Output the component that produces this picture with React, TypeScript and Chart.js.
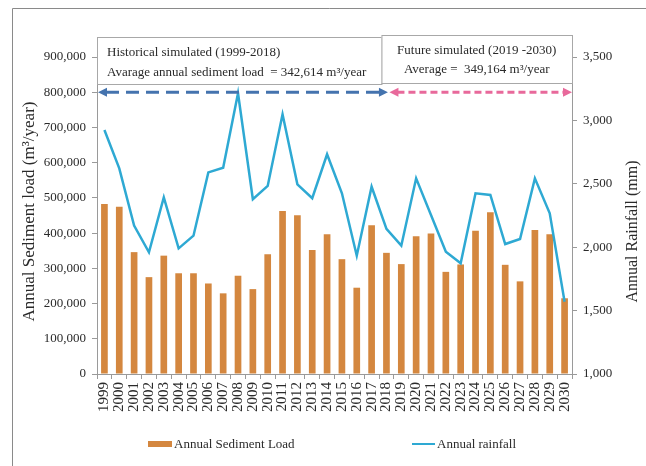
import React, { useEffect, useRef } from 'react';
import { Chart, registerables } from 'chart.js';

Chart.register(...registerables);

const years = ['1999','2000','2001','2002','2003','2004','2005','2006','2007','2008','2009','2010','2011','2012','2013','2014','2015','2016','2017','2018','2019','2020','2021','2022','2023','2024','2025','2026','2027','2028','2029','2030'];
const sedimentLoad = [483000, 475000, 346000, 275000, 336000, 286000, 286000, 257000, 229000, 279000, 241000, 340000, 463000, 451000, 352000, 397000, 326000, 245000, 422000, 344000, 312000, 391000, 399000, 290000, 311000, 407000, 459000, 310000, 263000, 409000, 397000, 215000];
const rainfall = [2924, 2622, 2170, 1960, 2393, 1991, 2091, 2590, 2627, 3214, 2378, 2483, 3048, 2496, 2386, 2733, 2425, 1933, 2477, 2144, 2012, 2543, 2254, 1965, 1873, 2425, 2412, 2025, 2065, 2543, 2267, 1570];
const leftTicks = { min: 0, max: 900000, step: 100000 };
const rightTicks = { min: 1000, max: 3500, step: 500 };
const histLines = ['Historical simulated (1999-2018)', 'Avarage annual sediment load  = 342,614 m\u00B3/year'];
const futLines = ['Future simulated (2019 -2030)', 'Average =  349,164 m\u00B3/year'];
const leftTitle = 'Annual Sediment load (m\u00B3/year)';
const rightTitle = 'Annual Rainfall (mm)';
const legendNames = ['Annual Sediment Load', 'Annual rainfall'];

const SERIF = "'Liberation Serif', 'Times New Roman', serif";
const BAR = '#D4873F';
const LINE = '#2EA9D3';
const AXIS = '#9a9a9a';
const TEXT = '#2a2a2a';

function arrowHead(ctx: CanvasRenderingContext2D, tipX: number, y: number, dir: number, color: string) {
  ctx.fillStyle = color;
  ctx.beginPath();
  ctx.moveTo(tipX, y);
  ctx.lineTo(tipX - dir * 9, y - 4.5);
  ctx.lineTo(tipX - dir * 9, y + 4.5);
  ctx.closePath();
  ctx.fill();
}

function dashedArrow(ctx: CanvasRenderingContext2D, x1: number, x2: number, y: number, color: string, dash: number[]) {
  ctx.save();
  ctx.strokeStyle = color;
  ctx.lineWidth = 3;
  ctx.setLineDash(dash);
  ctx.beginPath();
  ctx.moveTo(x1 + 8, y);
  ctx.lineTo(x2 - 8, y);
  ctx.stroke();
  ctx.restore();
  arrowHead(ctx, x1, y, -1, color);
  arrowHead(ctx, x2, y, 1, color);
}

const overlay = {
  id: 'overlay',
  afterDraw(chart: any) {
    const { ctx, chartArea, scales } = chart;
    const x = scales.x;
    const y = scales.y;
    const L = chartArea.left, R = chartArea.right, T = chartArea.top, B = chartArea.bottom;
    ctx.save();
    // outer frame
    ctx.strokeStyle = '#8a8a8a';
    ctx.lineWidth = 1;
    ctx.beginPath();
    ctx.moveTo(12.5, 466);
    ctx.lineTo(12.5, 8.5);
    ctx.lineTo(646, 8.5);
    ctx.stroke();

    // axis titles
    ctx.fillStyle = TEXT;
    ctx.textAlign = 'center';
    ctx.textBaseline = 'middle';
    ctx.font = `17px ${SERIF}`;
    ctx.save();
    ctx.translate(L - 67, (T + B) / 2 - 4);
    ctx.rotate(-Math.PI / 2);
    ctx.fillText(leftTitle, 0, 0);
    ctx.restore();
    ctx.font = `16px ${SERIF}`;
    ctx.save();
    ctx.translate(R + 61, (T + B) / 2 + 16);
    ctx.rotate(-Math.PI / 2);
    ctx.fillText(rightTitle, 0, 0);
    ctx.restore();

    // annotation boxes
    const split = x.getPixelForValue(19) - 5;
    ctx.fillStyle = '#ffffff';
    ctx.strokeStyle = '#a8a8a8';
    ctx.lineWidth = 1;
    ctx.fillRect(L, T - 20, split - L, 47);
    ctx.strokeRect(L + 0.5, T - 19.5, split - L, 47);
    ctx.fillRect(split, T - 22, R - split, 48);
    ctx.strokeRect(split + 0.5, T - 21.5, R - split, 48);

    ctx.fillStyle = TEXT;
    ctx.font = `13px ${SERIF}`;
    ctx.textBaseline = 'alphabetic';
    ctx.textAlign = 'left';
    ctx.fillText(histLines[0], L + 10, T - 1);
    ctx.fillText(histLines[1], L + 10, T + 19);
    ctx.textAlign = 'center';
    const cx2 = (split + R) / 2;
    ctx.fillText(futLines[0], cx2, T - 3);
    ctx.fillText(futLines[1], cx2, T + 16);

    // period arrows
    const ay = y.getPixelForValue(800000);
    const mid = x.getPixelForValue(19) + 1.5;
    dashedArrow(ctx, L + 1, mid, ay, '#4473AE', [13, 7]);
    dashedArrow(ctx, mid + 1.5, R, ay, '#E8699B', [7, 4]);

    // legend
    const ly = 444;
    ctx.fillStyle = BAR;
    ctx.fillRect(148, ly - 3, 24, 6);
    ctx.strokeStyle = LINE;
    ctx.lineWidth = 2;
    ctx.beginPath();
    ctx.moveTo(412, ly);
    ctx.lineTo(435, ly);
    ctx.stroke();
    ctx.fillStyle = TEXT;
    ctx.font = `13px ${SERIF}`;
    ctx.textAlign = 'left';
    ctx.textBaseline = 'middle';
    ctx.fillText(legendNames[0], 174, ly + 1);
    ctx.fillText(legendNames[1], 437, ly + 1);
    ctx.restore();
  },
};

export default function App() {
  const ref = useRef<HTMLCanvasElement>(null);
  useEffect(() => {
    if (!ref.current) return;
    const fmt = (v: any) => Number(v).toLocaleString('en-US');
    const chart = new Chart(ref.current, {
      type: 'bar',
      data: {
        labels: years,
        datasets: [
          {
            type: 'line',
            label: legendNames[1],
            data: rainfall,
            yAxisID: 'y1',
            borderColor: LINE,
            backgroundColor: LINE,
            borderWidth: 2.5,
            pointRadius: 0,
            tension: 0,
            order: 1,
          } as any,
          {
            type: 'bar',
            label: legendNames[0],
            data: sedimentLoad,
            yAxisID: 'y',
            backgroundColor: BAR,
            barPercentage: 0.45,
            categoryPercentage: 1,
            order: 2,
          },
        ],
      },
      options: {
        responsive: false,
        animation: false,
        layout: { padding: { top: 57, left: 0, right: 0, bottom: 0 } },
        plugins: { legend: { display: false }, tooltip: { enabled: false } },
        scales: {
          x: {
            offset: true,
            grid: { offset: true, drawOnChartArea: false, tickLength: 5, color: AXIS },
            border: { color: AXIS },
            ticks: {
              autoSkip: false,
              minRotation: 90,
              maxRotation: 90,
              padding: 3,
              color: TEXT,
              font: { family: SERIF, size: 15 },
            },
            afterFit: (s: any) => { s.height = 92; },
          },
          y: {
            position: 'left',
            min: leftTicks.min,
            max: leftTicks.max,
            grid: { drawOnChartArea: false, tickLength: 5, color: AXIS },
            border: { color: AXIS },
            ticks: {
              stepSize: leftTicks.step,
              padding: 6,
              color: TEXT,
              font: { family: SERIF, size: 13 },
              callback: fmt,
            },
            afterFit: (s: any) => { s.width = 97; },
          },
          y1: {
            position: 'right',
            min: rightTicks.min,
            max: rightTicks.max,
            grid: { drawOnChartArea: false, tickLength: 5, color: AXIS },
            border: { color: AXIS },
            ticks: {
              stepSize: rightTicks.step,
              padding: 6,
              color: TEXT,
              font: { family: SERIF, size: 13 },
              callback: fmt,
            },
            afterFit: (s: any) => { s.width = 74; },
          },
        },
      },
      plugins: [overlay],
    });
    return () => chart.destroy();
  }, []);
  return (
    <div style={{ position: 'fixed', left: 0, top: 0, width: 646, height: 466, background: '#fff' }}>
      <canvas ref={ref} width={646} height={466} style={{ display: 'block' }} />
    </div>
  );
}
